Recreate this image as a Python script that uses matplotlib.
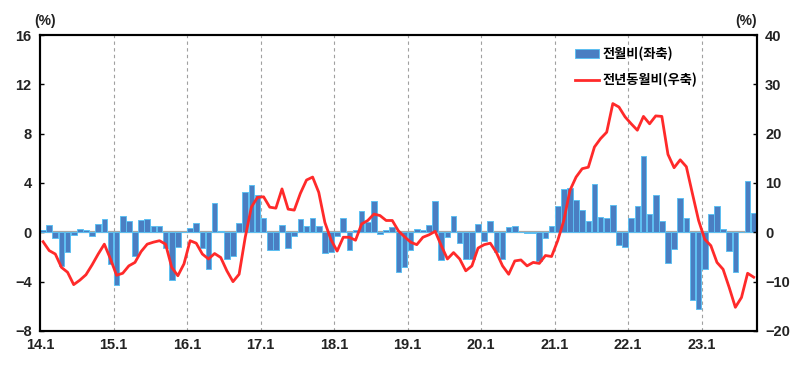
import matplotlib
matplotlib.use("Agg")
import matplotlib.pyplot as plt
from matplotlib.patches import Patch
from matplotlib.lines import Line2D
import numpy as np

plt.rcParams['font.family'] = ['Liberation Sans', 'Noto Sans CJK KR', 'DejaVu Sans']

# Monthly data from 2014.1 to 2023.9
mom = [0.2, 0.6, -0.45, -2.7, -1.6, -0.2, 0.3, 0.15, -0.3, 0.7, 1.1, -2.6, -4.3, 1.3, 0.9, -1.9, 1.0, 1.1, 0.5, 0.55,
       -1.3, -3.9, -1.15, 0.05, 0.35, 0.75, -1.3, -3.0, 2.35, 0.1, -2.2, -1.9, 0.75, 3.3, 3.8, 3.05, 1.2, -1.45, -1.4,
       0.6, -1.3, -0.27, 1.1, 0.55, 1.15, 0.5, -1.65, -1.6, -0.27, 1.2, -1.4, 0.2, 1.73, 0.8, 2.5, -0.13, 0.2, 0.4,
       -3.2, -2.85, -1.4, 0.3, 0.2, 0.6, 2.5, -2.25, -0.4, 1.3, -0.85, -2.15, -2.2, 0.7, -0.7, 0.9, -1.6, -2.15, 0.4, 0.55,
       0.05, -0.08, -0.08, -2.3, -0.45, 0.55, 2.15, 3.5, 3.6, 2.6, 1.85, 0.95, 3.9, 1.27, 1.2, 2.2, -1.0, -1.2, 1.15, 2.15,
       6.15, 1.5, 3.0, 0.95, -2.5, -1.35, 2.8, 1.15, -5.5, -6.2, -3.0, 1.5, 2.15, 0.27, -1.55, -3.25, 0.05, 4.2, 1.6]

yoy = [-1.9, -3.7, -4.4, -7.1, -8.1, -10.6, -9.7, -8.6, -6.6, -4.4, -2.4, -5.4, -8.7, -8.3, -6.8, -6.1, -3.9, -2.4, -2.0, -1.7,
       -2.4, -7.1, -8.8, -6.4, -1.7, -2.2, -4.4, -5.4, -4.3, -5.1, -7.8, -10.0, -8.5, -1.0, 5.1, 7.1, 7.2, 5.1, 4.9,
       8.8, 4.7, 4.5, 7.9, 10.6, 11.2, 8.1, 2.0, -1.5, -3.8, -1.0, -1.0, -1.6, 1.7, 2.4, 3.7, 3.4, 2.4, 2.4,
       0.3, -0.9, -2.0, -2.5, -1.0, -0.5, 0.2, -2.7, -5.4, -4.1, -5.4, -7.8, -6.8, -3.2, -2.5, -2.2, -4.1, -6.8, -8.5, -5.8,
       -5.6, -6.8, -6.1, -6.3, -4.7, -4.9, -1.7, 2.4, 8.5, 11.2, 12.9, 13.2, 17.3, 19.0, 20.3, 26.1, 25.4, 23.4, 22.0, 20.7,
       23.5, 22.0, 23.6, 23.5, 15.8, 13.1, 14.7, 13.3, 7.8, 2.4, -1.4, -2.7, -6.1, -7.5, -11.2, -15.2, -13.2, -8.3, -9.1]

year_labels = ['14.1', '15.1', '16.1', '17.1', '18.1', '19.1', '20.1', '21.1', '22.1', '23.1']
left_ticks = [-8, -4, 0, 4, 8, 12, 16]
right_ticks = [-20, -10, 0, 10, 20, 30, 40]
bar_label = '전월비(좌축)'
line_label = '전년동월비(우축)'

n = len(mom)
x = np.arange(n) + 0.5

fig = plt.figure(figsize=(8, 3.83), dpi=100)
ax = fig.add_axes([0.05, 0.1358, 0.896, 0.7728])
ax2 = ax.twinx()

# year separators
for k in range(1, len(year_labels)):
    ax.axvline(k * 12, color='#a0a0a0', linestyle=(0, (3, 3)), linewidth=0.8, zorder=0)
ax.axhline(0, color='#a6a6a6', linewidth=1.6, zorder=1)

ax.bar(x, mom, width=0.92, color='#4a7ec2', edgecolor='#5cc0f2', linewidth=0.7, zorder=2)
ax2.plot(x, yoy, color='#ff2a2a', linewidth=2.0, zorder=3)

ax.set_xlim(0, n)
ax.set_ylim(-8, 16)
ax2.set_ylim(-20, 40)
ax.set_yticks(left_ticks)
ax2.set_yticks(right_ticks)
ax.set_xticks([k * 12 for k in range(len(year_labels))])
ax.set_xticklabels(year_labels)

ax.tick_params(axis='y', direction='in', length=3, width=1, labelsize=10.5, pad=6)
ax2.tick_params(axis='y', direction='in', length=3, width=1, labelsize=10.5, pad=6)
ax.tick_params(axis='x', length=0, labelsize=10.5, pad=5)
for lab in ax.get_yticklabels() + ax.get_xticklabels() + ax2.get_yticklabels():
    lab.set_fontweight('bold')
    lab.set_color('#222222')

for sp in ax.spines.values():
    sp.set_linewidth(1.5)
for sp in ax2.spines.values():
    sp.set_linewidth(1.5)

fig.text(0.056, 0.945, '(%)', fontsize=10, fontweight='bold', ha='center', va='center', color='#222222')
fig.text(0.933, 0.945, '(%)', fontsize=10, fontweight='bold', ha='center', va='center', color='#222222')

handles = [Patch(facecolor='#4a7ec2', edgecolor='#5cc0f2', linewidth=0.7),
           Line2D([], [], color='#ff2a2a', linewidth=2.0)]
leg = ax2.legend(handles, [bar_label, line_label], loc='upper left',
                 bbox_to_anchor=(0.73, 1.0), frameon=False, handlelength=1.8,
                 handletextpad=0.3, labelspacing=0.9,
                 prop={'family': ['Noto Sans CJK KR', 'DejaVu Sans'], 'weight': 'bold', 'size': 9.5})

fig.savefig('out.png', dpi=100)
